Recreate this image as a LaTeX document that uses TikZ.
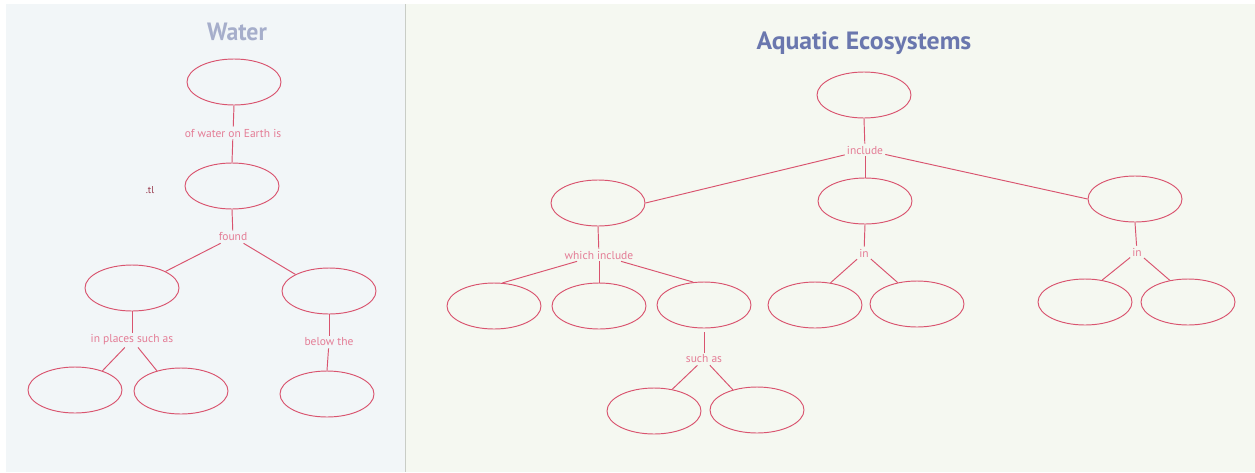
\documentclass[tikz,border=0pt]{standalone}
\usepackage{fontspec}
\setmainfont{PT Sans}
\usetikzlibrary{shapes.geometric}
\definecolor{leftbg}{HTML}{F2F6F8}
\definecolor{rightbg}{HTML}{F5F8F1}
\definecolor{ovalred}{HTML}{D9546F}
\definecolor{labelpink}{HTML}{E47D96}
\definecolor{titlelight}{HTML}{A6AECB}
\definecolor{titledark}{HTML}{6A77AE}
\definecolor{divider}{HTML}{C9CDC6}
\tikzset{
  oval/.style={ellipse, draw=ovalred, line width=0.95pt, minimum width=94pt, minimum height=46pt, inner sep=0pt},
  lbl/.style={text=labelpink, font=\fontsize{11.5}{13}\selectfont, inner sep=2pt},
  link/.style={draw=ovalred, line width=0.95pt},
  titletext/.style={font=\bfseries\fontsize{25}{28}\selectfont}
}
\begin{document}
\begin{tikzpicture}[x=1pt,y=-1pt]
\useasboundingbox (0,0) rectangle (1255,472);
\fill[white] (0,0) rectangle (1255,472);
\fill[leftbg] (6,4) rectangle (405,472);
\fill[rightbg] (405,4) rectangle (1255,472);
\draw[divider, line width=0.8pt] (405,4) -- (405,472);

% ---------- Water ----------
\node[titletext, text=titlelight, xscale=0.95] (wtitle) at (237,32) {Water};
\node[oval] (E1) at (234,82) {};
\node[lbl] (L1) at (233,133) {of water on Earth is};
\node[oval] (E2) at (232,186) {};
\node[lbl] (L2) at (233,237) {found};
\node[oval] (E3) at (132,288) {};
\node[oval] (E4) at (329,291) {};
\node[lbl] (L3) at (132,340) {in places such as};
\node[lbl] (L4) at (329,342) {below the};
\node[oval] (E5) at (75,390) {};
\node[oval] (E6) at (181,391) {};
\node[oval] (E7) at (327,394) {};
\node[text=ovalred!70!black, font=\fontsize{10}{11}\selectfont, inner sep=0pt] (stray) at (150,190) {.tl};

\draw[link] (E1.south) -- (L1);
\draw[link] (L1) -- (E2.north);
\draw[link] (E2.south) -- (L2);
\draw[link] (L2) -- (E3.north east);
\draw[link] (L2) -- (E4.north west);
\draw[link] (E3.south) -- (L3);
\draw[link] (L3) -- (E5.35);
\draw[link] (L3) -- (E6.140);
\draw[link] (E4.south) -- (L4);
\draw[link] (L4) -- (E7.north);

% ---------- Aquatic Ecosystems ----------
\node[titletext, text=titledark, xscale=1.03] (atitle) at (864,43) {Aquatic Ecosystems};
\node[oval] (A1) at (864,95) {};
\node[lbl] (I1) at (865,150) {include};
\node[oval] (A2) at (598,203) {};
\node[oval] (A3) at (865,201) {};
\node[oval] (A4) at (1135,199) {};
\node[lbl] (I2) at (599,255) {which include};
\node[lbl] (I3) at (864,253) {in};
\node[lbl] (I4) at (1137,252) {in};
\node[oval] (B1) at (494,306) {};
\node[oval] (B2) at (599,306) {};
\node[oval] (B3) at (704,305) {};
\node[oval] (B4) at (815,305) {};
\node[oval] (B5) at (917,304) {};
\node[oval] (B6) at (1085,302) {};
\node[oval] (B7) at (1188,302) {};
\node[lbl] (I5) at (704,359) {such as};
\node[oval] (C1) at (654,411) {};
\node[oval] (C2) at (757,410) {};

\draw[link] (A1.south) -- (I1);
\draw[link] (I1) -- (A2.east);
\draw[link] (I1) -- (A3.north);
\draw[link] (I1) -- (A4.west);
\draw[link] (A2.south) -- (I2);
\draw[link] (I2) -- (B1.70);
\draw[link] (I2) -- (B2.north);
\draw[link] (I2) -- (B3.115);
\draw[link] (A3.south) -- (I3);
\draw[link] (I3) -- (B4.55);
\draw[link] (I3) -- (B5.132);
\draw[link] (A4.south) -- (I4);
\draw[link] (I4) -- (B6.52);
\draw[link] (I4) -- (B7.130);
\draw[link] (B3.south) ++(0,4) -- (I5);
\draw[link] (I5) -- (C1.50);
\draw[link] (I5) -- (C2.140);
\end{tikzpicture}
\end{document}
